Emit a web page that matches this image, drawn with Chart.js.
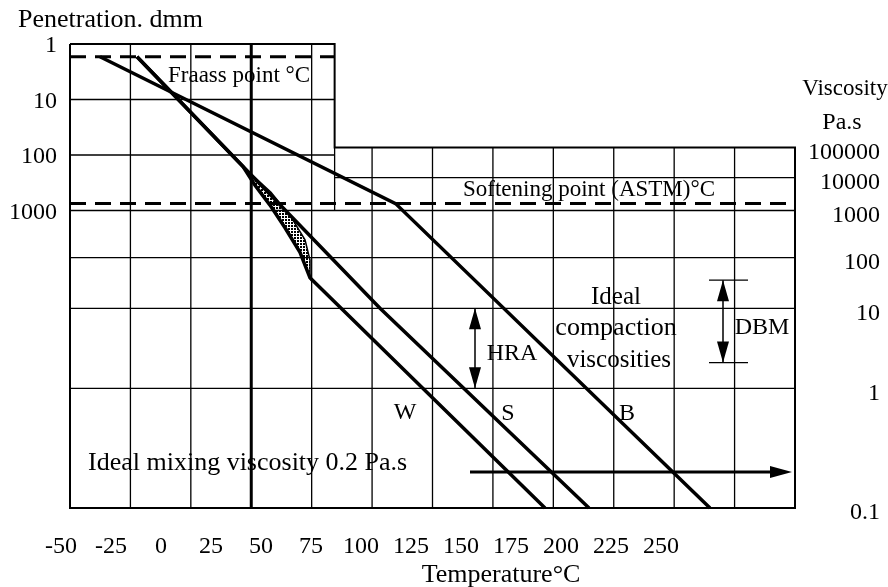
<!DOCTYPE html>
<html>
<head>
<meta charset="utf-8">
<title>Bitumen test data chart</title>
<script src="https://cdn.jsdelivr.net/npm/chart.js@4.4.1/dist/chart.umd.min.js"></script>
<style>
  html, body { margin: 0; padding: 0; background: #fff; }
  #wrap { width: 888px; height: 587px; }
</style>
</head>
<body>
<div id="wrap"><canvas id="btdc"></canvas></div>
<script>
// temperature axis labels (°C)
const TEMP_TICKS = [-50, -25, 0, 25, 50, 75, 100, 125, 150, 175, 200, 225, 250];
// penetration scale, left upper part (dmm)
const PEN_TICKS = [1, 10, 100, 1000];
// viscosity scale on the right (Pa.s) and the depth each one sits at
// (depth = decades of penetration below the top edge)
const VISC_TICKS = [100000, 10000, 1000, 100, 10, 1, 0.1];
const VISC_DEPTH = [1.865, 2.409, 3.0, 3.85, 4.762, 6.204, 8.36];

// bitumen lines: [°C, value, 'P' penetration dmm | 'V' viscosity Pa.s]
const W_LINE = [[-12, 1.7, 'P'], [41, 162, 'P'], [47, 350, 'P'], [54.5, 800, 'P'],
                [62, 430, 'V'], [69.5, 130, 'V'], [74.5, 40, 'V'], [192, 0.1, 'V']];
const S_LINE = [[-12, 1.7, 'P'], [109.5, 10, 'V'], [214, 0.1, 'V']];
const B_LINE = [[-30.5, 1.7, 'P'], [117.3, 750, 'P'], [274.5, 0.1, 'V']];
// dotted (waxy) zone between W and S
const WAX_ZONE = [[41, 162, 'P'], [55, 470, 'P'], [65, 730, 'V'], [72, 240, 'V'], [74.5, 90, 'V'],
                  [74.5, 40, 'V'], [69.5, 130, 'V'], [62, 430, 'V'], [54.5, 800, 'P'], [47, 350, 'P'], [41, 162, 'P']];

const FRAASS_PEN = 1.7;
const SOFTENING_PEN = 750;
const MIXING_VISC = 0.2;
const MIXING_FROM = 154.5;               // °C where the mixing arrow starts
const HRA_TEMP = 157, HRA_VISC = [10, 1];
const DBM_TEMP = 281, DBM_VISC = [36, 2.1], DBM_CAP = [274, 293.5];

// text placed in the plot: [text, °C, value, scale, align, size]
const LABELS = [
    ['Fraass point °C', 3.5, 3.8, 'P', 'left', 23],
    ['Softening point (ASTM)°C', 151, 430, 'P', 'left', 23],
    ['Ideal', 227.5, 16.7, 'V', 'center', 25],
    ['compaction', 227.5, 5.6, 'V', 'center', 26],
    ['viscosities', 229, 2.25, 'V', 'center', 25],
    ['HRA', 175.5, 2.7, 'V', 'center', 24],
    ['DBM', 300.5, 5.7, 'V', 'center', 24],
    ['W', 122, 0.62, 'V', 'center', 24],
    ['S', 173.5, 0.61, 'V', 'center', 24],
    ['B', 233, 0.61, 'V', 'center', 24],
    ['Ideal mixing viscosity 0.2 Pa.s', -36.5, 0.235, 'V', 'left', 26]
];

// layout of the drawing
const TMIN = -45.5, TMAX = 317;
const DMAX = VISC_DEPTH[VISC_DEPTH.length - 1];
const COLS = 12, STEP_COL = 4.38, THICK_COL = 3;
const SERIF = "'Liberation Serif', 'DejaVu Serif', serif";

function viscDepth(v) {
    const lv = Math.log10(v);
    for (let i = 0; i < VISC_TICKS.length - 1; i++) {
        const a = Math.log10(VISC_TICKS[i]), b = Math.log10(VISC_TICKS[i + 1]);
        if (lv <= a && lv >= b) {
            return VISC_DEPTH[i] + (a - lv) / (a - b) * (VISC_DEPTH[i + 1] - VISC_DEPTH[i]);
        }
    }
    return lv > 0 ? VISC_DEPTH[0] : DMAX;
}
function depth(v, kind) {
    return kind === 'P' ? Math.log10(v) : viscDepth(v);
}
function toPoints(arr) {
    return arr.map(([t, v, k]) => ({ x: t, y: depth(v, k) }));
}

function seg(data, opts) {
    return Object.assign({
        data: data,
        borderColor: '#000',
        borderWidth: 1.3,
        pointRadius: 0,
        fill: false,
        tension: 0,
        clip: false,
        xAxisID: 'g',
        yAxisID: 'y'
    }, opts || {});
}

function makeHatch() {
    const c = document.createElement('canvas');
    c.width = 3; c.height = 3;
    const g = c.getContext('2d');
    g.fillStyle = '#000';
    g.fillRect(0, 0, 2, 2);
    return g.createPattern(c, 'repeat');
}

const datasets = [];
const topRight = viscDepth(VISC_TICKS[0]);

// frame
datasets.push(seg([{x: 0, y: 0}, {x: STEP_COL, y: 0}, {x: STEP_COL, y: topRight}, {x: COLS, y: topRight},
                   {x: COLS, y: DMAX}, {x: 0, y: DMAX}, {x: 0, y: 0}], { borderWidth: 2 }));
datasets.push(seg([{x: STEP_COL, y: topRight}, {x: STEP_COL, y: 3}]));
// vertical grid lines
for (let i = 1; i < COLS; i++) {
    const top = i < STEP_COL ? 0 : topRight;
    datasets.push(seg([{x: i, y: top}, {x: i, y: DMAX}], { borderWidth: i === THICK_COL ? 3 : 1.3 }));
}
// horizontal grid lines
[10, 100].forEach(p => datasets.push(seg([{x: 0, y: depth(p, 'P')}, {x: STEP_COL, y: depth(p, 'P')}])));
datasets.push(seg([{x: STEP_COL, y: viscDepth(VISC_TICKS[1])}, {x: COLS, y: viscDepth(VISC_TICKS[1])}]));
VISC_TICKS.slice(2, -1).forEach(v => datasets.push(seg([{x: 0, y: viscDepth(v)}, {x: COLS, y: viscDepth(v)}])));

// Fraass and softening point lines
datasets.push(seg([{x: 0, y: depth(FRAASS_PEN, 'P')}, {x: STEP_COL, y: depth(FRAASS_PEN, 'P')}],
                  { borderWidth: 3, borderDash: [16, 9] }));
datasets.push(seg([{x: 0, y: depth(SOFTENING_PEN, 'P')}, {x: COLS, y: depth(SOFTENING_PEN, 'P')}],
                  { borderWidth: 3, borderDash: [16, 9] }));

// dotted zone
datasets.push(seg(toPoints(WAX_ZONE), { xAxisID: 'x', borderWidth: 1.5, fill: 'shape', backgroundColor: makeHatch() }));

// bitumen lines
[W_LINE, S_LINE, B_LINE].forEach(l => datasets.push(seg(toPoints(l), { xAxisID: 'x', borderWidth: 3.5 })));

// arrows (shafts)
const mixY = viscDepth(MIXING_VISC);
datasets.push(seg([{x: MIXING_FROM, y: mixY}, {x: TMAX - 8, y: mixY}], { xAxisID: 'x', borderWidth: 3 }));
datasets.push(seg([{x: HRA_TEMP, y: viscDepth(HRA_VISC[0])}, {x: HRA_TEMP, y: viscDepth(HRA_VISC[1])}],
                  { xAxisID: 'x', borderWidth: 1.5 }));
datasets.push(seg([{x: DBM_TEMP, y: viscDepth(DBM_VISC[0])}, {x: DBM_TEMP, y: viscDepth(DBM_VISC[1])}],
                  { xAxisID: 'x', borderWidth: 1.5 }));
DBM_VISC.forEach(v => datasets.push(seg([{x: DBM_CAP[0], y: viscDepth(v)}, {x: DBM_CAP[1], y: viscDepth(v)}],
                  { xAxisID: 'x', borderWidth: 1.3 })));

function head(ctx, x, y, dir, len, half) {
    ctx.beginPath();
    if (dir === 'right') {
        ctx.moveTo(x, y); ctx.lineTo(x - len, y - half); ctx.lineTo(x - len, y + half);
    } else if (dir === 'up') {
        ctx.moveTo(x, y); ctx.lineTo(x - half, y + len); ctx.lineTo(x + half, y + len);
    } else {
        ctx.moveTo(x, y); ctx.lineTo(x - half, y - len); ctx.lineTo(x + half, y - len);
    }
    ctx.closePath();
    ctx.fill();
}

const decorations = {
    id: 'decorations',
    afterDatasetsDraw(chart) {
        const ctx = chart.ctx;
        const xs = chart.scales.x, ys = chart.scales.y, area = chart.chartArea;
        ctx.save();
        ctx.fillStyle = '#000';

        // arrow heads
        head(ctx, xs.getPixelForValue(TMAX) - 3, ys.getPixelForValue(mixY), 'right', 22, 6);
        head(ctx, xs.getPixelForValue(HRA_TEMP), ys.getPixelForValue(viscDepth(HRA_VISC[0])), 'up', 21, 6);
        head(ctx, xs.getPixelForValue(HRA_TEMP), ys.getPixelForValue(viscDepth(HRA_VISC[1])), 'down', 21, 6);
        head(ctx, xs.getPixelForValue(DBM_TEMP), ys.getPixelForValue(viscDepth(DBM_VISC[0])), 'up', 21, 6);
        head(ctx, xs.getPixelForValue(DBM_TEMP), ys.getPixelForValue(viscDepth(DBM_VISC[1])), 'down', 21, 6);

        // text in the plot
        ctx.textBaseline = 'middle';
        LABELS.forEach(([text, t, v, k, align, size]) => {
            ctx.font = size + 'px ' + SERIF;
            ctx.textAlign = align;
            ctx.fillText(text, xs.getPixelForValue(t), ys.getPixelForValue(depth(v, k)));
        });

        // axis captions
        ctx.font = '26px ' + SERIF;
        ctx.textAlign = 'left';
        ctx.fillText('Penetration. dmm', area.left - 52, area.top - 24);
        ctx.textAlign = 'center';
        ctx.fillText('Temperature°C', area.left + 431, area.bottom + 67);
        ctx.font = '23px ' + SERIF;
        ctx.fillText('Viscosity', area.right + 50, area.top + 45);
        ctx.font = '24px ' + SERIF;
        ctx.fillText('Pa.s', area.right + 47, area.top + 79);
        ctx.restore();
    }
};

const tickFont = { family: SERIF, size: 24 };

new Chart(document.getElementById('btdc'), {
    type: 'line',
    data: { datasets: datasets },
    options: {
        responsive: true,
        maintainAspectRatio: false,
        animation: false,
        devicePixelRatio: 1,
        layout: { padding: { left: 0, right: 8, top: 44, bottom: 0 } },
        plugins: {
            legend: { display: false },
            tooltip: { enabled: false },
            title: { display: false }
        },
        scales: {
            x: {
                type: 'linear',
                position: 'bottom',
                min: TMIN,
                max: TMAX,
                grid: { display: false },
                border: { display: false },
                afterBuildTicks: (scale) => { scale.ticks = TEMP_TICKS.map(t => ({ value: t })); },
                afterFit: (scale) => { scale.height = 79; },
                ticks: {
                    color: '#000',
                    font: tickFont,
                    padding: 16,
                    autoSkip: false,
                    maxRotation: 0,
                    callback: (v) => String(v)
                }
            },
            g: {
                type: 'linear',
                position: 'bottom',
                display: false,
                min: 0,
                max: COLS
            },
            y: {
                type: 'linear',
                position: 'left',
                reverse: true,
                min: 0,
                max: DMAX,
                grid: { display: false },
                border: { display: false },
                afterBuildTicks: (scale) => { scale.ticks = PEN_TICKS.map(p => ({ value: Math.log10(p) })); },
                afterFit: (scale) => { scale.width = 70; },
                ticks: {
                    color: '#000',
                    font: tickFont,
                    padding: 5,
                    labelOffset: 2,
                    callback: (v, i) => String(PEN_TICKS[i])
                }
            },
            y2: {
                type: 'linear',
                position: 'right',
                reverse: true,
                min: 0,
                max: DMAX,
                grid: { display: false },
                border: { display: false },
                afterBuildTicks: (scale) => { scale.ticks = VISC_DEPTH.map(d => ({ value: d })); },
                afterFit: (scale) => { scale.width = 85; },
                ticks: {
                    color: '#000',
                    font: tickFont,
                    padding: 5,
                    crossAlign: 'far',
                    labelOffset: 5,
                    callback: (v, i) => String(VISC_TICKS[i])
                }
            }
        }
    },
    plugins: [decorations]
});
</script>
</body>
</html>
